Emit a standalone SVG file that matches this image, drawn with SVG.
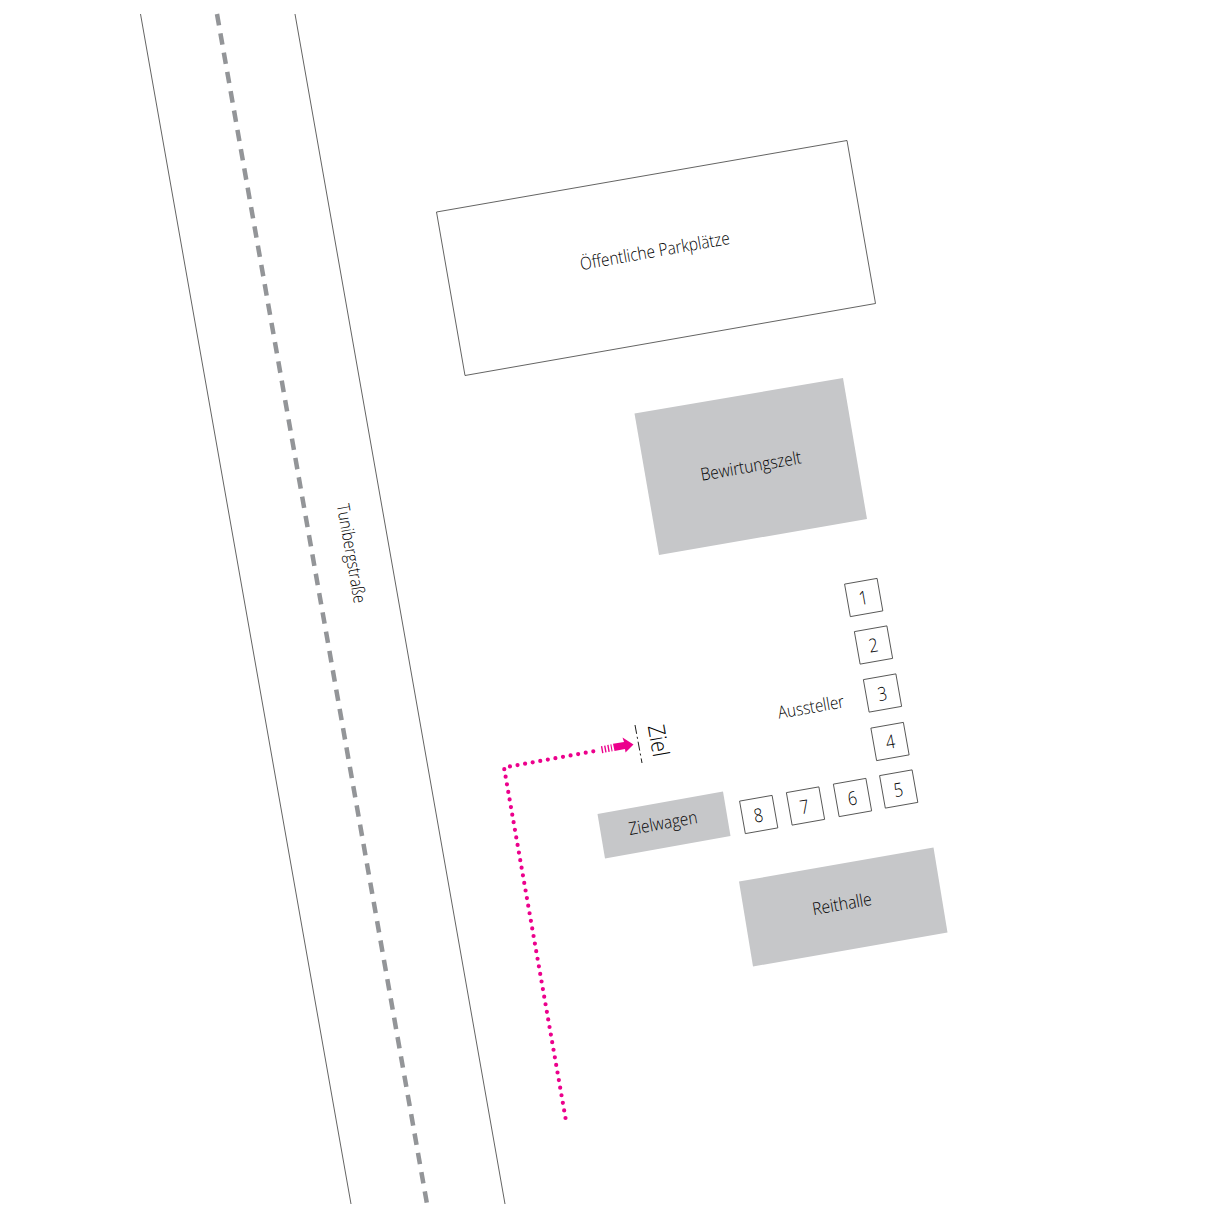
<svg xmlns="http://www.w3.org/2000/svg" width="1219" height="1219" viewBox="0 0 1219 1219">
<style>
text{font-family:"Open Sans","Noto Sans","Liberation Sans",sans-serif;font-weight:300;fill:#000;text-anchor:middle}
.l{font-size:17.500px}
.n{font-size:19px}
.line{fill:none;stroke:#3c3c3b;stroke-width:.8}
.box{fill:#fff;stroke:#3c3c3b;stroke-width:.8}
.fill{fill:#c6c7c9}
</style>
<rect width="1219" height="1219" fill="#fff"/>
<g id="road">
<path class="line" d="M140.500 14L351 1204"/>
<path class="line" d="M295 14L505 1204"/>
<path fill="none" stroke="#939598" stroke-width="4.500" stroke-dasharray="11.500 8.100" d="M217 14L427 1204"/>
<text class="l" transform="translate(345.500 554.500) rotate(80) scale(.84 1)">Tunibergstraße</text>
</g>
<g id="parkplaetze">
<path class="box" d="M436.500 212L847 140.500L875.500 303.500L465 375.500Z"/>
<text class="l" transform="translate(656 257) rotate(-10) scale(.88 1)">Öffentliche Parkplätze</text>
</g>
<g id="bewirtungszelt">
<path class="fill" d="M634.500 413.500L843 378L867 519L659 555Z"/>
<text class="l" transform="translate(752 472) rotate(-10) scale(.885 1)">Bewirtungszelt</text>
</g>
<g id="zielwagen">
<path class="fill" d="M597.500 814L723 791.500L730.500 836L605 858.500Z"/>
<text class="l" transform="translate(664 829) rotate(-10) scale(.885 1)">Zielwagen</text>
</g>
<g id="reithalle">
<path class="fill" d="M739 881.500L933.500 847.500L947.500 932.500L753 966.500Z"/>
<text class="l" transform="translate(843 910) rotate(-10) scale(.9 1)">Reithalle</text>
</g>
<g id="aussteller">
<text class="l" transform="translate(812 713) rotate(-10) scale(.87 1)">Aussteller</text>
</g>
<g id="stand-1"><rect class="box" x="-16.500" y="-16.500" width="33" height="33" transform="translate(863.700 597.500) rotate(-10)"/><text class="n" transform="translate(864.500 604.500) rotate(-10) scale(.85 1)">1</text></g>
<g id="stand-2"><rect class="box" x="-16.500" y="-16.500" width="33" height="33" transform="translate(873.500 645) rotate(-10)"/><text class="n" transform="translate(874.500 652) rotate(-10) scale(.85 1)">2</text></g>
<g id="stand-3"><rect class="box" x="-16.500" y="-16.500" width="33" height="33" transform="translate(882.500 693) rotate(-10)"/><text class="n" transform="translate(883.500 700.500) rotate(-10) scale(.85 1)">3</text></g>
<g id="stand-4"><rect class="box" x="-16.500" y="-16.500" width="33" height="33" transform="translate(890 741.500) rotate(-10)"/><text class="n" transform="translate(891.500 748.500) rotate(-10) scale(.85 1)">4</text></g>
<g id="stand-5"><rect class="box" x="-16.500" y="-16.500" width="33" height="33" transform="translate(898.700 789) rotate(-10)"/><text class="n" transform="translate(899.500 796.500) rotate(-10) scale(.85 1)">5</text></g>
<g id="stand-6"><rect class="box" x="-16.500" y="-16.500" width="33" height="33" transform="translate(852.500 797.500) rotate(-10)"/><text class="n" transform="translate(853.500 805) rotate(-10) scale(.85 1)">6</text></g>
<g id="stand-7"><rect class="box" x="-16.500" y="-16.500" width="33" height="33" transform="translate(805.500 806) rotate(-10)"/><text class="n" transform="translate(805.500 813.500) rotate(-10) scale(.85 1)">7</text></g>
<g id="stand-8"><rect class="box" x="-16.500" y="-16.500" width="33" height="33" transform="translate(758.700 814.500) rotate(-10)"/><text class="n" transform="translate(759.500 822) rotate(-10) scale(.85 1)">8</text></g>
<g id="ziel">
<path fill="none" stroke="#1d1d1b" stroke-width="1" stroke-dasharray="9 3 2 3" d="M635 725L642 763"/>
<text transform="translate(650.500 742) rotate(80) scale(.88 1)" style="font-size:23px">Ziel</text>
</g>
<g id="connectors">
<path fill="none" stroke="#ec008c" stroke-width="4.200" stroke-linecap="round" stroke-dasharray="0 7.700" d="M565.500 1118L504 767.500L598 750.500"/>
<path fill="none" stroke="#ec008c" stroke-width="7" stroke-dasharray="1.400 1.800" d="M601.500 749.700L612 747.800"/>
<path fill="#ec008c" d="M613 743.800L624 741.900L622.500 737.500L633.500 744.500L625.500 752.500L625 749L614.500 750.900Z"/>
</g>
</svg>
